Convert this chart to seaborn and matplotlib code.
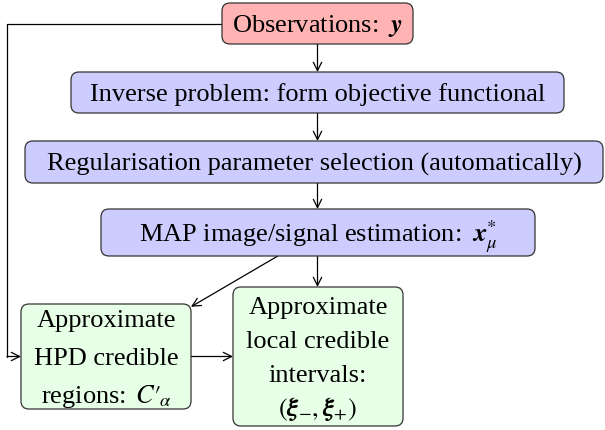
import numpy as np
import seaborn as sns
import matplotlib.pyplot as plt
from matplotlib.patches import FancyBboxPatch

# node labels, top to bottom
node_names = ["obs", "inv", "reg", "map", "hpd", "loc"]
node_labels = [
    r"Observations: $\;\mathbfit{y}$",
    "Inverse problem: form objective functional",
    "Regularisation parameter selection (automatically)",
    r"MAP image/signal estimation: $\;\mathbfit{x}^{*}_{\mu}$",
    "Approximate\nHPD credible\n" + r"regions: $\,C\prime_{\!\alpha}$",
    "Approximate\nlocal credible\nintervals:\n" + r"$(\mathbfit{\xi}_{-},\mathbfit{\xi}_{+})$",
]
node_kind = ["observe", "process", "process", "process", "result", "result"]
# straight connections (source -> target)
edges = [("obs", "inv"), ("inv", "reg"), ("reg", "map"),
         ("map", "loc"), ("map", "hpd"), ("hpd", "loc")]

# layout in pixels: left, top, right, bottom, line gap
layout = {
    "obs": (222, 3, 413, 44, 0),
    "inv": (71, 72, 564, 113, 0),
    "reg": (25, 141, 603, 183, 0),
    "map": (101, 209, 535, 256, 0),
    "hpd": (21, 304, 191, 409, 38),
    "loc": (233, 287, 403, 426, 34),
}
fills = {"observe": "#ffb3b3", "process": "#ccccff", "result": "#e6ffe6"}
spine_x = 317.5
feedback_x = 7
font_px = 19 * 100 / 72

sns.set_theme(style="white")
plt.rcParams["font.family"] = ["Liberation Serif", "DejaVu Serif"]
plt.rcParams["mathtext.fontset"] = "stix"

fig = plt.figure(figsize=(6.05, 4.3), dpi=100)
ax = fig.add_axes([0, 0, 1, 1])
ax.set_xlim(0, 605)
ax.set_ylim(430, 0)
ax.axis("off")


def centre(name):
    l, t, r, b, _ = layout[name]
    return np.array([(l + r) / 2, (t + b) / 2])


def border_point(name, toward):
    # where the line from the box centre toward a point leaves the box
    l, t, r, b, _ = layout[name]
    c = centre(name)
    d = np.array(toward, dtype=float) - c
    sx = ((r - l) / 2) / abs(d[0]) if d[0] != 0 else np.inf
    sy = ((b - t) / 2) / abs(d[1]) if d[1] != 0 else np.inf
    return c + d * min(sx, sy)


for name, label, kind in zip(node_names, node_labels, node_kind):
    l, t, r, b, gap = layout[name]
    ax.add_patch(FancyBboxPatch((l, t), r - l, b - t,
                                boxstyle="round,pad=0,rounding_size=8",
                                fc=fills[kind], ec="#333333", lw=0.9, zorder=2))
    cx, cy = centre(name)
    lines = label.split("\n")
    n = len(lines)
    for i, line in enumerate(lines):
        y = cy + (i - (n - 1) / 2) * gap + 0.34 * font_px
        ax.text(cx, y, line, ha="center", va="baseline", fontsize=19,
                color="black", zorder=3)

arrow = dict(arrowstyle="->,head_length=0.5,head_width=0.25", lw=0.9,
             color="black", shrinkA=0, shrinkB=0)

for src, dst in edges:
    if layout[dst][1] > layout[src][3] and layout[dst][0] < spine_x < layout[dst][2] \
            and layout[src][0] < spine_x < layout[src][2]:
        # stacked boxes: straight down the main spine
        start = (spine_x, layout[src][3])
        end = (spine_x, layout[dst][1])
    else:
        start = border_point(src, centre(dst))
        end = border_point(dst, centre(src))
    ax.annotate("", xy=end, xytext=start, arrowprops=arrow, zorder=1)

# feedback from observations straight to the HPD regions
oy = centre("obs")[1]
hy = centre("hpd")[1]
ax.plot([layout["obs"][0], feedback_x, feedback_x], [oy, oy, hy],
        color="black", lw=0.9, zorder=1)
ax.annotate("", xy=(layout["hpd"][0], hy), xytext=(feedback_x, hy),
            arrowprops=arrow, zorder=1)

fig.savefig("out.png", dpi=100)
